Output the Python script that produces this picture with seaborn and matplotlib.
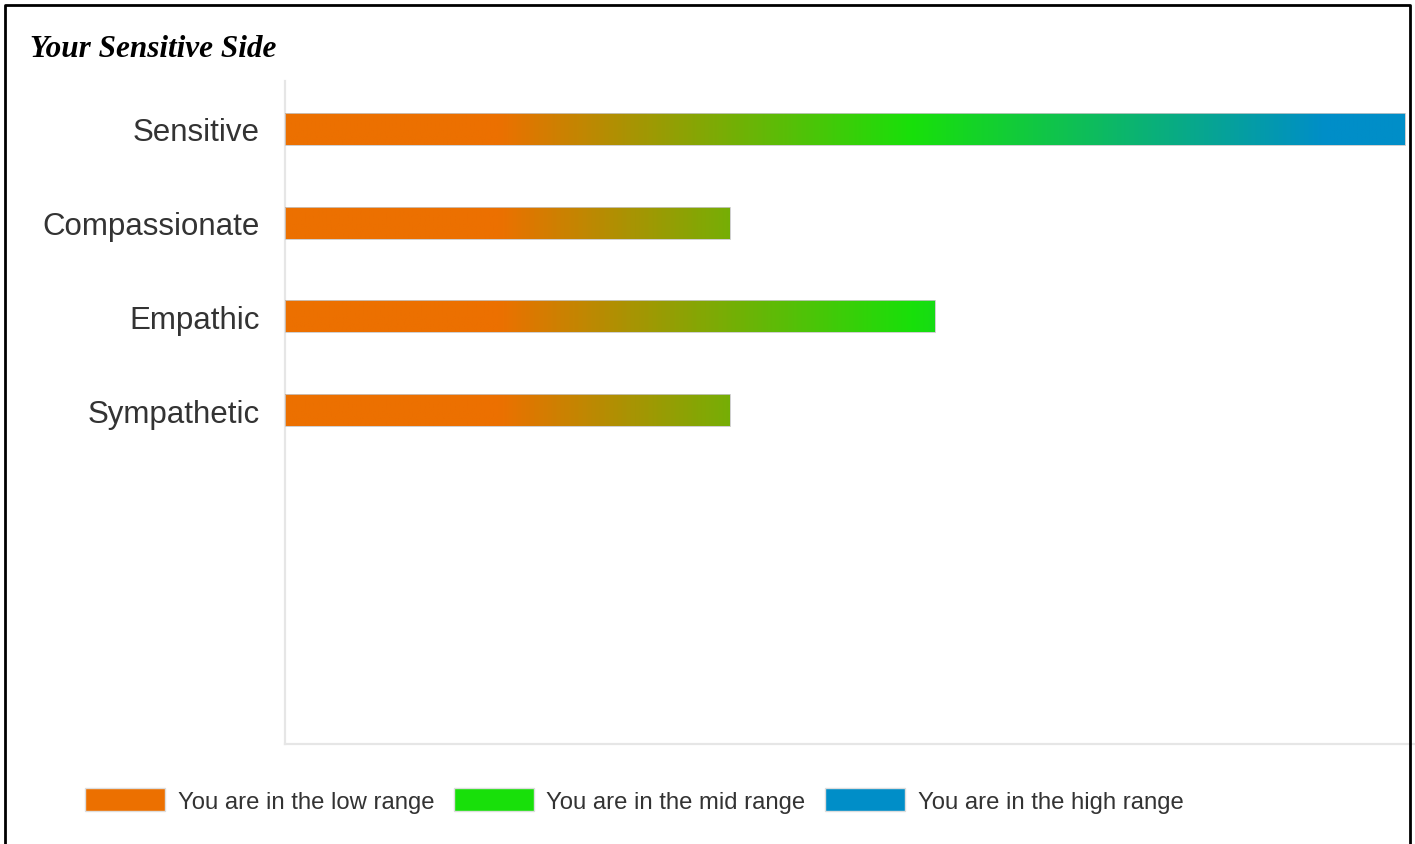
import numpy as np
import pandas as pd
import matplotlib
matplotlib.use("Agg")
import matplotlib.pyplot as plt
from matplotlib.colors import LinearSegmentedColormap
from matplotlib.patches import Patch
from matplotlib.lines import Line2D
import seaborn as sns

# Données du graphique
traits = ["Sensitive", "Compassionate", "Empathic", "Sympathetic"]
scores = [100, 39.7, 58, 39.7]
range_labels = ["You are in the low range", "You are in the mid range", "You are in the high range"]
range_colors = ["#EC7000", "#18E00A", "#008EC8"]
# positions du dégradé (fraction de l'échelle 0-100)
gradient_stops = [0.0, 0.19, 0.56, 0.93, 1.0]
gradient_colors = [range_colors[0], range_colors[0], range_colors[1], range_colors[2], range_colors[2]]

df = pd.DataFrame({"Trait": traits, "Score": scores})

sns.set_style("white")
plt.rcParams["font.family"] = ["Liberation Sans", "DejaVu Sans"]

W, H = 1415, 845
fig = plt.figure(figsize=(W / 100, H / 100), dpi=100)
ax = fig.add_axes([285 / W, 1 - 745 / H, 1 - 285 / W, (745 - 82) / H])

# Barres horizontales (remplies ensuite par le dégradé)
sns.barplot(data=df, x="Score", y="Trait", orient="h", color="white",
            width=0.34, edgecolor="none", ax=ax)

cmap = LinearSegmentedColormap.from_list("ranges", list(zip(gradient_stops, gradient_colors)))
grad = np.linspace(0, 1, 512).reshape(1, -1)
for bar in list(ax.patches):
    y0 = bar.get_y()
    y1 = y0 + bar.get_height()
    im = ax.imshow(grad, extent=(0, 100, y1, y0), aspect="auto", cmap=cmap,
                   interpolation="bilinear", zorder=3)
    im.set_clip_path(bar)
    bar.set_edgecolor("#c8c8c8")
    bar.set_linewidth(0.6)
    bar.set_zorder(4)
    bar.set_facecolor("none")

ax.set_xlim(0, 100.9)
ax.set_ylim(6.56, -0.51)
ax.set_xticks([])
ax.set_xlabel("")
ax.set_ylabel("")
ax.tick_params(axis="y", length=0, pad=18, labelsize=22.5, labelcolor="#333333")
sns.despine(ax=ax)
for side in ["left", "bottom"]:
    ax.spines[side].set_color("#e6e6e6")
    ax.spines[side].set_linewidth(1.6)

# Titre
fig.text(30 / W, 1 - 57 / H, "Your Sensitive Side", family="Liberation Serif",
         weight="bold", style="italic", fontsize=22.5, va="baseline", color="black")

# Cadre noir (gauche, haut, droite)
fig.add_artist(Line2D([5 / W, 5 / W, 1410 / W, 1410 / W], [0, 1 - 6 / H, 1 - 6 / H, 0],
                      color="black", lw=2, transform=fig.transFigure))

# Légende
handles = [Patch(facecolor=c, edgecolor="#dddddd", label=l) for c, l in zip(range_colors, range_labels)]
fs = 17.2
px = fs * 100 / 72
fig.legend(handles=handles, loc="lower left", bbox_to_anchor=(85 / W, 1 - 814 / H), ncol=3,
           frameon=False, fontsize=fs, handlelength=80 / px, handleheight=1.1,
           handletextpad=13 / px, columnspacing=19 / px, borderpad=0, borderaxespad=0,
           labelcolor="#333333")

fig.savefig("out.png", dpi=100)
